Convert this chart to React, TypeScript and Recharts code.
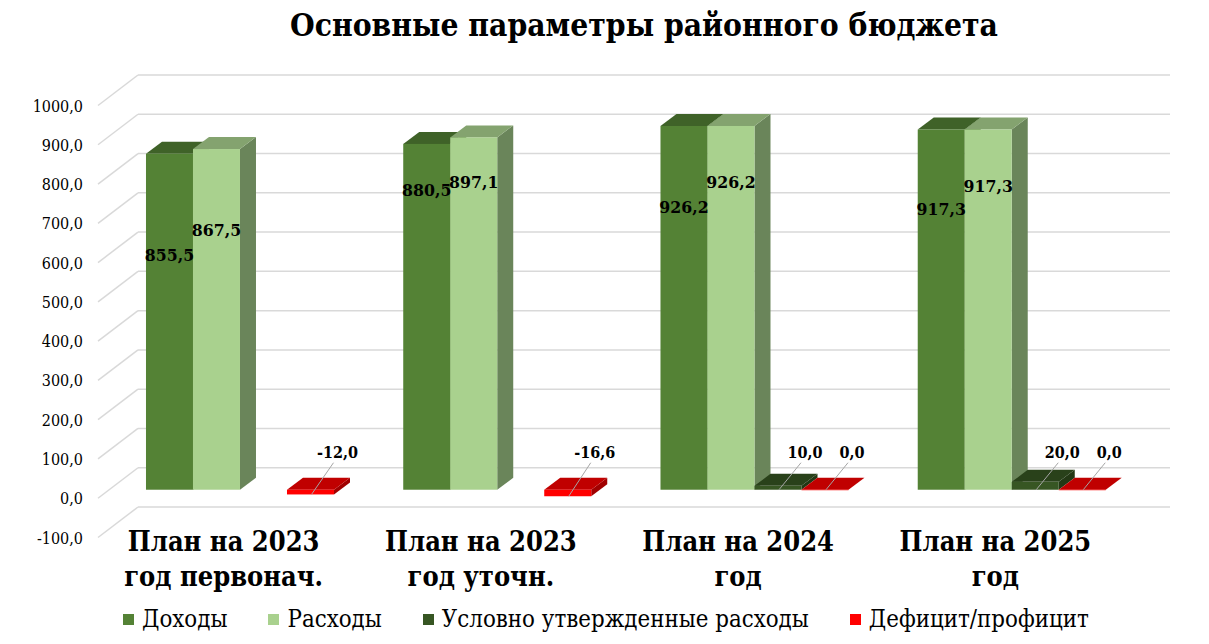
import React from "react";
import { BarChart, Bar, XAxis, YAxis, CartesianGrid, Legend, LabelList } from "recharts";

// categories (two-line labels)
const categoryTop = ["План на 2023", "План на 2023", "План на 2024", "План на 2025"];
const categoryBottom = ["год первонач.", "год уточн.", "год", "год"];

// series values
const dohody = [855.5, 880.5, 926.2, 917.3];
const rashody = [867.5, 897.1, 926.2, 917.3];
const uslovno = [null, null, 10.0, 20.0];
const deficit = [-12.0, -16.6, 0.0, 0.0];

const yTicks = [-100, 0, 100, 200, 300, 400, 500, 600, 700, 800, 900, 1000];

// where the inside labels sit, px below the bar top (hand placed in the original)
const dohodyLabelDrop = [101, 46, 81, 80];
const rashodyLabelDrop = [81, 45, 56, 57];

const data = categoryTop.map((name, i) => ({
  name,
  dohody: dohody[i],
  rashody: rashody[i],
  uslovno: uslovno[i],
  deficit: deficit[i],
}));

const W = 1209;
const H = 644;
const LEFT = 111;
const RIGHT = 1140;
const TOP = 97;
const BOTTOM = 529;
const DX = 16;
const DY = 12;
const FONT = "DejaVu Serif Condensed";

const fmt = (v: number) => v.toFixed(1).replace(".", ",");

// fake 3D box: side face, top face, then the front
const makeShape = (key: string, front: string, top: string, side: string) => (p: any) => {
  const v = p.payload?.[key];
  if (v == null) return <g />;
  const x = p.x;
  const w = p.width;
  const y0 = Math.min(p.y, p.y + p.height);
  const y1 = Math.max(p.y, p.y + p.height);
  return (
    <g>
      <polygon points={`${x + w},${y0} ${x + w + DX},${y0 - DY} ${x + w + DX},${y1 - DY} ${x + w},${y1}`} fill={side} />
      <polygon points={`${x},${y0} ${x + DX},${y0 - DY} ${x + w + DX},${y0 - DY} ${x + w},${y0}`} fill={top} />
      <rect x={x} y={y0} width={w} height={Math.max(y1 - y0, 0.5)} fill={front} />
    </g>
  );
};

const insideLabel = (drops: number[]) => (p: any) => {
  const { x, y, width, height, value, index } = p;
  if (value == null) return null;
  const top = Math.min(y, y + height);
  return (
    <text x={x + width / 2} y={top + drops[index]} textAnchor="middle" dominantBaseline="central"
      style={{ fontFamily: FONT }} fontWeight="bold" fontSize={17.5} fill="#000">
      {fmt(Number(value))}
    </text>
  );
};

const calloutLabel = (p: any) => {
  const { x, y, width, height, value } = p;
  if (value == null) return null;
  const cx = x + width / 2;
  const top = Math.min(y, y + height);
  const bottom = Math.max(y, y + height);
  const zeroY = Number(value) >= 0 ? bottom : top;
  return (
    <g>
      <line x1={cx + 1} y1={bottom} x2={cx + 23} y2={zeroY - 27} stroke="#a6a6a6" strokeWidth={1} />
      <text x={cx + 27} y={zeroY - 32} textAnchor="middle" style={{ fontFamily: FONT }} fontWeight="bold" fontSize={16} fill="#000">
        {fmt(Number(value))}
      </text>
    </g>
  );
};

const gridLine = (p: any) => {
  const y = p.y1;
  return (
    <g key={p.key ?? `g-${y}`}>
      <line x1={LEFT - 13} y1={y + 8.5} x2={LEFT + 27} y2={y - 22} stroke="#d9d9d9" strokeWidth={1.5} />
      <line x1={LEFT + 27} y1={y - 22} x2={RIGHT + 30} y2={y - 22} stroke="#d9d9d9" strokeWidth={1.5} />
    </g>
  );
};

const YTick = (p: any) => (
  <text x={LEFT - 28} y={p.y + 9} textAnchor="end" dominantBaseline="central" style={{ fontFamily: FONT }} fontSize={16} fill="#000">
    {fmt(Number(p.payload.value))}
  </text>
);

const XTick = (p: any) => {
  const cx = p.x - 16;
  return (
    <g>
      <text x={cx} y={BOTTOM + 22} textAnchor="middle" style={{ fontFamily: FONT }} fontWeight="bold" fontSize={27} fill="#000">
        {categoryTop[p.index]}
      </text>
      <text x={cx} y={BOTTOM + 57} textAnchor="middle" style={{ fontFamily: FONT }} fontWeight="bold" fontSize={27} fill="#000">
        {categoryBottom[p.index]}
      </text>
    </g>
  );
};

const legendItems = [
  { name: "Доходы", color: "#548235" },
  { name: "Расходы", color: "#a9d18e" },
  { name: "Условно утвержденные расходы", color: "#375623" },
  { name: "Дефицит/профицит", color: "#ff0000" },
];

const renderLegend = () => (
  <div style={{ display: "flex", alignItems: "center", height: 34, paddingLeft: 123, fontFamily: FONT, fontSize: 23.8, color: "#000" }}>
    {legendItems.map((it) => (
      <div key={it.name} style={{ display: "flex", alignItems: "center", marginRight: 41 }}>
        <span style={{ width: 11, height: 11, background: it.color, marginRight: 8, display: "inline-block" }} />
        <span style={{ lineHeight: "34px" }}>{it.name}</span>
      </div>
    ))}
  </div>
);

export default function App() {
  return (
    <div style={{ position: "absolute", left: 0, top: 0, width: W, height: H, background: "#fff", fontFamily: FONT }}>
      <div style={{ position: "absolute", left: 644, top: 8, transform: "translateX(-50%)", whiteSpace: "nowrap",
        fontFamily: FONT, fontSize: 31.5, lineHeight: "33px", fontWeight: "bold", color: "#000" }}>
        Основные параметры районного бюджета
      </div>
      <BarChart width={W} height={H} data={data} barGap={0} barCategoryGap="13.6%"
        margin={{ top: TOP, right: W - RIGHT, left: LEFT - 60, bottom: H - BOTTOM - 80 - 34 }}>
        <CartesianGrid vertical={false} horizontal={gridLine} />
        <YAxis domain={[-100, 1000]} ticks={yTicks} width={60} axisLine={false} tickLine={false} tick={<YTick />} interval={0} />
        <XAxis dataKey="name" height={80} axisLine={false} tickLine={false} tick={<XTick />} interval={0} />
        <Legend verticalAlign="bottom" content={renderLegend} wrapperStyle={{ left: 0, top: 602, bottom: "auto", width: W, height: 34 }} />
        <Bar dataKey="dohody" name="Доходы" fill="#548235" isAnimationActive={false}
          shape={makeShape("dohody", "#548235", "#3f6228", "#466e2c")}>
          <LabelList dataKey="dohody" content={insideLabel(dohodyLabelDrop)} />
        </Bar>
        <Bar dataKey="rashody" name="Расходы" fill="#a9d18e" isAnimationActive={false}
          shape={makeShape("rashody", "#a9d18e", "#84a36f", "#6a855a")}>
          <LabelList dataKey="rashody" content={insideLabel(rashodyLabelDrop)} />
        </Bar>
        <Bar dataKey="uslovno" name="Условно утвержденные расходы" fill="#375623" isAnimationActive={false}
          shape={makeShape("uslovno", "#375623", "#29411a", "#233815")}>
          <LabelList dataKey="uslovno" content={calloutLabel} />
        </Bar>
        <Bar dataKey="deficit" name="Дефицит/профицит" fill="#ff0000" isAnimationActive={false}
          shape={makeShape("deficit", "#ff0000", "#c00000", "#a00000")}>
          <LabelList dataKey="deficit" content={calloutLabel} />
        </Bar>
      </BarChart>
    </div>
  );
}
